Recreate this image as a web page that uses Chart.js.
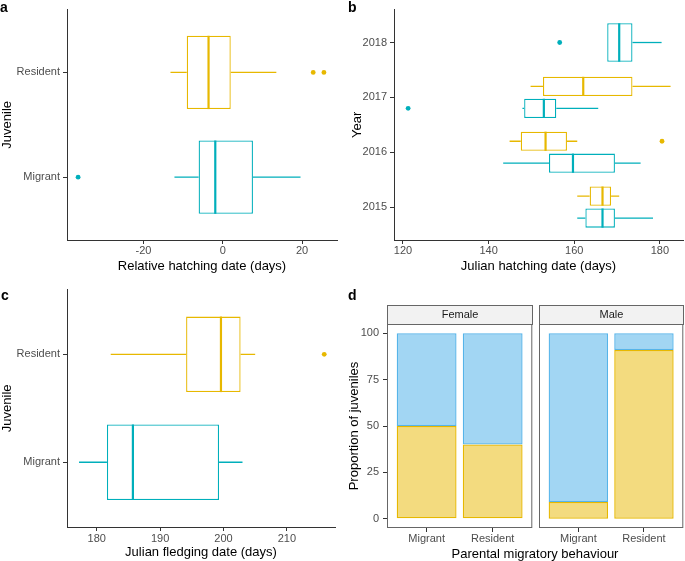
<!DOCTYPE html>
<html>
<head>
<meta charset="utf-8">
<script src="https://cdn.jsdelivr.net/npm/chart.js@4"></script>
<style>
  body { margin: 0; background: #fff; font-family: "Liberation Sans", Arial, sans-serif; }
  #wrap { position: relative; width: 685px; height: 561px; overflow: hidden; }
  canvas { position: absolute; }
  .tag { position: absolute; font-weight: bold; font-size: 14px; line-height: 14px; color: #000; }
  .strip { position: absolute; box-sizing: border-box; border: 1px solid #666; background: #f2f2f2;
           font-size: 11px; color: #1a1a1a; text-align: center; line-height: 17px; }
  .xtitle { position: absolute; font-size: 13px; line-height: 15px; color: #000; text-align: center; }
</style>
</head>
<body>
<div id="wrap">
  <canvas id="pa" width="342" height="280" style="left:0;top:0"></canvas>
  <canvas id="pb" width="343" height="280" style="left:342px;top:0"></canvas>
  <canvas id="pc" width="342" height="281" style="left:0;top:280px"></canvas>
  <canvas id="pd1" width="195" height="281" style="left:340px;top:280px"></canvas>
  <canvas id="pd2" width="150" height="281" style="left:535px;top:280px"></canvas>
  <div class="tag" style="left:0;top:0">a</div>
  <div class="tag" style="left:348px;top:0">b</div>
  <div class="tag" style="left:1px;top:288px">c</div>
  <div class="tag" style="left:348px;top:288px">d</div>
  <div class="strip" style="left:387px;top:305px;width:146px;height:20px">Female</div>
  <div class="strip" style="left:539px;top:305px;width:145px;height:20px">Male</div>
  <div class="xtitle" style="left:435px;top:546px;width:200px">Parental migratory behaviour</div>
</div>
<script>
// juvenile groups (bottom to top on the y axis)
const juvenile = ['Migrant', 'Resident'];
const teal = '#00AFBB';
const gold = '#E7B800';

// a: relative hatching date
const relLow = [-12.2, -13.2];
const relQ1 = [-6.1, -9.1];
const relMed = [-1.9, -3.6];
const relQ3 = [7.6, 2.0];
const relHigh = [19.6, 13.5];
const relOut = [[-36.5], [22.8, 25.5]];
const relTicks = [-20, 0, 20];

// b: julian hatching date per year
const years = ['2015', '2016', '2017', '2018'];
const resHatchLow = [160.7, 144.9, 149.8, null];
const resHatchQ1 = [163.6, 147.5, 152.7, null];
const resHatchMed = [166.6, 153.3, 162.1, null];
const resHatchQ3 = [168.6, 158.3, 173.6, null];
const resHatchHigh = [170.5, 160.7, 182.5, null];
const resHatchOut = [[], [180.5], [], []];
const migHatchLow = [160.7, 143.4, 147.9, 167.7];
const migHatchQ1 = [162.6, 154.1, 148.3, 167.7];
const migHatchMed = [166.6, 159.7, 152.9, 170.5];
const migHatchQ3 = [169.5, 169.5, 155.8, 173.6];
const migHatchHigh = [178.4, 175.5, 165.6, 180.4];
const migHatchOut = [[], [], [121.2], [156.6]];
const hatchTicks = [120, 140, 160, 180];

// c: julian fledging date
const fledLow = [177.2, 182.2];
const fledQ1 = [181.6, 194.1];
const fledMed = [185.7, 199.6];
const fledQ3 = [199.3, 202.7];
const fledHigh = [203.0, 205.0];
const fledOut = [[], [215.9]];
const fledTicks = [180, 190, 200, 210];

// d: proportion of juveniles by parent behaviour
const parents = ['Migrant', 'Resident'];
const femaleResJuv = [50, 40];
const femaleMigJuv = [50, 60];
const maleResJuv = [9, 91];
const maleMigJuv = [91, 9];
const propTicks = [0, 25, 50, 75, 100];

Chart.defaults.font.family = '"Liberation Sans", Arial, sans-serif';
Chart.defaults.animation = false;

// whiskers, medians and outliers on top of the floating box bars
const boxPlot = {
  id: 'boxPlot',
  afterDatasetsDraw(chart) {
    const ctx = chart.ctx;
    const xs = chart.scales.x;
    chart.data.datasets.forEach((ds, di) => {
      if (!ds.stats) return;
      const meta = chart.getDatasetMeta(di);
      meta.data.forEach((bar, i) => {
        const s = ds.stats[i];
        if (s.q1 == null) return;
        const col = Array.isArray(ds.lineColor) ? ds.lineColor[i] : ds.lineColor;
        const y = bar.y, h = bar.height;
        ctx.save();
        ctx.strokeStyle = col;
        ctx.lineWidth = 1.3;
        ctx.beginPath();
        ctx.moveTo(xs.getPixelForValue(s.lo), y);
        ctx.lineTo(xs.getPixelForValue(s.q1), y);
        ctx.moveTo(xs.getPixelForValue(s.q3), y);
        ctx.lineTo(xs.getPixelForValue(s.hi), y);
        ctx.stroke();
        ctx.lineWidth = 2.2;
        ctx.beginPath();
        const mx = xs.getPixelForValue(s.med);
        ctx.moveTo(mx, y - h / 2);
        ctx.lineTo(mx, y + h / 2);
        ctx.stroke();
        ctx.fillStyle = col;
        s.out.forEach(v => {
          ctx.beginPath();
          ctx.arc(xs.getPixelForValue(v), y, 2.4, 0, Math.PI * 2);
          ctx.fill();
        });
        ctx.restore();
      });
    });
  }
};

const panelBorder = {
  id: 'panelBorder',
  afterDraw(chart) {
    const a = chart.chartArea, ctx = chart.ctx;
    ctx.save();
    ctx.strokeStyle = '#666';
    ctx.lineWidth = 1;
    ctx.strokeRect(a.left + 0.5, a.top + 0.5, a.right - a.left - 1, a.bottom - a.top - 1);
    ctx.restore();
  }
};

function boxSet(label, low, q1, med, q3, high, out, color) {
  return {
    label: label,
    data: q1.map((v, i) => ({ y: i + 1, x: v == null ? null : [v, q3[i]] })),
    stats: q1.map((v, i) => ({ lo: low[i], q1: v, med: med[i], q3: q3[i], hi: high[i], out: out[i] })),
    lineColor: color,
    backgroundColor: '#fff',
    borderColor: color,
    borderWidth: 1.3,
    borderSkipped: false,
    categoryPercentage: 0.8,
    barPercentage: 0.875
  };
}

function catY(labels, width, title, titlePad) {
  return {
    type: 'linear', min: 0.4, max: labels.length + 0.6, offset: false,
    afterBuildTicks: s => { s.ticks = labels.map((l, i) => ({ value: i + 1 })); },
    afterFit: s => { s.width = width; },
    ticks: { callback: v => labels[Math.round(v) - 1], color: '#4d4d4d', font: { size: 11 }, padding: 3 },
    grid: { offset: false, drawOnChartArea: false, drawTicks: true, tickLength: 4, tickColor: '#333' },
    border: { display: true, color: '#333', width: 1 },
    title: { display: true, text: title, color: '#000', font: { size: 13 }, padding: { top: titlePad, bottom: 0 } }
  };
}

function valX(min, max, tickVals, title, height, tickPad, titlePad) {
  return {
    type: 'linear', min: min, max: max,
    afterBuildTicks: s => { s.ticks = tickVals.map(v => ({ value: v })); },
    afterFit: s => { s.height = height; },
    ticks: { color: '#4d4d4d', font: { size: 11 }, padding: tickPad },
    grid: { drawOnChartArea: false, drawTicks: true, tickLength: 4, tickColor: '#333' },
    border: { display: true, color: '#333', width: 1 },
    title: { display: true, text: title, color: '#000', font: { size: 13 }, padding: { top: 0, bottom: titlePad } }
  };
}

function boxChart(id, datasets, xScale, yScale, pad) {
  return new Chart(document.getElementById(id), {
    type: 'bar',
    data: { datasets: datasets },
    options: {
      indexAxis: 'y',
      responsive: false,
      devicePixelRatio: 1,
      layout: { padding: pad },
      skipNull: true,
      scales: { x: xScale, y: yScale },
      plugins: { legend: { display: false }, tooltip: { enabled: false } }
    },
    plugins: [boxPlot]
  });
}

boxChart('pa',
  [boxSet('Juvenile', relLow, relQ1, relMed, relQ3, relHigh, relOut, [teal, gold])],
  valX(-39.3, 28.8, relTicks, 'Relative hatching date (days)', 40, 0, 5.5),
  catY(juvenile, 67, 'Juvenile', 0),
  { left: 0, right: 5, top: 0, bottom: 0 });

boxChart('pb',
  [boxSet('Resident', resHatchLow, resHatchQ1, resHatchMed, resHatchQ3, resHatchHigh, resHatchOut, gold),
   boxSet('Migrant', migHatchLow, migHatchQ1, migHatchMed, migHatchQ3, migHatchHigh, migHatchOut, teal)],
  valX(117.9, 185.4, hatchTicks, 'Julian hatching date (days)', 40, 0, 5.5),
  catY(years, 52, 'Year', 8),
  { left: 0, right: 2, top: 0, bottom: 0 });

boxChart('pc',
  [boxSet('Juvenile', fledLow, fledQ1, fledMed, fledQ3, fledHigh, fledOut, [teal, gold])],
  valX(175.3, 217.6, fledTicks, 'Julian fledging date (days)', 34, 1, 0.5),
  catY(juvenile, 67, 'Juvenile', 0),
  { left: 0, right: 7, top: 5, bottom: 0 });

function propChart(id, resVals, migVals, showY, pad) {
  return new Chart(document.getElementById(id), {
    type: 'bar',
    data: {
      datasets: [
        { label: 'Resident', data: resVals.map((v, i) => ({ x: i + 1, y: v })),
          backgroundColor: 'rgba(231,184,0,0.5)', borderColor: gold, borderWidth: 1.3, borderSkipped: false },
        { label: 'Migrant', data: migVals.map((v, i) => ({ x: i + 1, y: v })),
          backgroundColor: 'rgba(86,180,233,0.55)', borderColor: '#56B4E9', borderWidth: 1.3, borderSkipped: false }
      ]
    },
    options: {
      responsive: false,
      devicePixelRatio: 1,
      layout: { padding: pad },
      datasets: { bar: { categoryPercentage: 1, barPercentage: 0.906 } },
      scales: {
        x: {
          type: 'linear', min: 0.4, max: 2.6, stacked: true, offset: false,
          afterBuildTicks: s => { s.ticks = parents.map((p, i) => ({ value: i + 1 })); },
          afterFit: s => { s.height = 33; },
          ticks: { callback: v => parents[Math.round(v) - 1], color: '#4d4d4d', font: { size: 11 },
                   padding: 0.7, maxRotation: 0 },
          grid: { offset: false, drawOnChartArea: false, drawTicks: true, tickLength: 4, tickColor: '#333' },
          border: { display: false }
        },
        y: {
          display: showY,
          min: -5, max: 105, stacked: true,
          afterBuildTicks: s => { s.ticks = propTicks.map(v => ({ value: v })); },
          afterFit: s => { s.width = showY ? 47 : 0; },
          ticks: { color: '#4d4d4d', font: { size: 11 }, padding: 4 },
          grid: { drawOnChartArea: false, drawTicks: true, tickLength: 4, tickColor: '#333' },
          border: { display: false },
          title: { display: showY, text: 'Proportion of juveniles', color: '#000', font: { size: 13 },
                   padding: { top: 6.2, bottom: 0 } }
        }
      },
      plugins: { legend: { display: false }, tooltip: { enabled: false } }
    },
    plugins: [panelBorder]
  });
}

propChart('pd1', femaleResJuv, femaleMigJuv, true, { left: 0, right: 2.7, top: 44, bottom: 0 });
propChart('pd2', maleResJuv, maleMigJuv, false, { left: 4, right: 1.7, top: 44, bottom: 0 });
</script>
</body>
</html>
